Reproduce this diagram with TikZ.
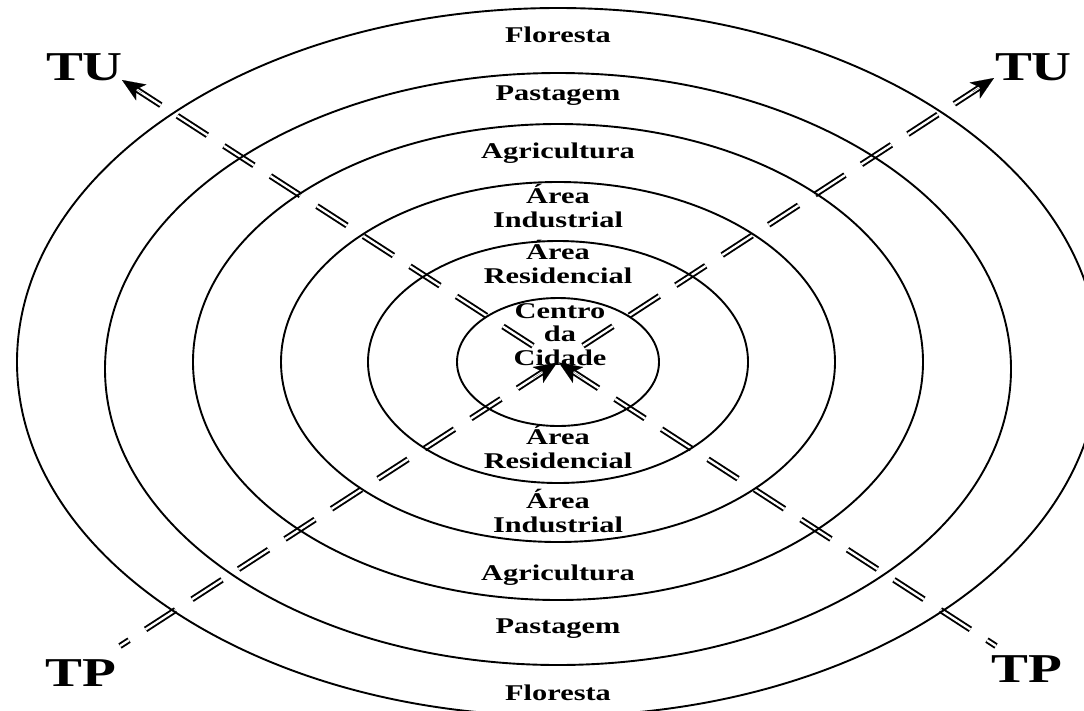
\documentclass[tikz,border=0pt]{standalone}
\usepackage{fontspec}
\setmainfont{Liberation Serif}
\usepackage{graphicx}
\usetikzlibrary{calc,arrows.meta}
\newcommand{\sx}[1]{\scalebox{1.35}[1]{#1}}
\newcommand{\labfont}{\fontsize{22.5}{23.5}\selectfont\bfseries}
\newcommand{\bigfont}{\fontsize{41}{45}\selectfont\bfseries}
\begin{document}
\begin{tikzpicture}[x=1pt,y=-1pt,
  ring/.style={draw=black, line width=1.9pt},
  road/.style={draw=black, line width=1.9pt, double=white, double distance=2.3pt, dash pattern=on 35.7pt off 19.7pt},
  lab/.style={font=\labfont, align=center, inner sep=0pt, anchor=base},
  biglab/.style={font=\bigfont, inner sep=0pt, anchor=base},
  head/.style={line width=0.1pt, -{Stealth[length=23pt,width=19pt,inset=6pt]}}
]
\clip (0,0) rectangle (1084,710);
\coordinate (C) at (558,362);
\coordinate (ULt) at (122,80);
\coordinate (URt) at (994,78);
\coordinate (BLe) at (120,646);
\coordinate (BRe) at (996,646);
% roads
\draw[road] ($(C)!29.8pt!(ULt)$) -- ($(C)!505pt!(ULt)$);
\draw[road] ($(C)!29.8pt!(URt)$) -- ($(C)!505pt!(URt)$);
\draw[road] ($(C)!12.6pt!(BLe)$) -- (BLe);
\draw[road] ($(C)!12.6pt!(BRe)$) -- (BRe);
% rings
\draw[ring] (C) ellipse [x radius=541pt, y radius=354pt];
\draw[ring] (558,369) ellipse [x radius=453pt, y radius=296pt];
\draw[ring] (C) ellipse [x radius=365pt, y radius=238pt];
\draw[ring] (C) ellipse [x radius=277pt, y radius=180pt];
\draw[ring] (C) ellipse [x radius=190pt, y radius=121pt];
\draw[ring] (C) ellipse [x radius=101pt, y radius=64pt];
% labels (base = baseline of last line)
\node[lab] (fl1) at (558,42) {\sx{Floresta}};
\node[lab] (pa1) at (558,100) {\sx{Pastagem}};
\node[lab] (ag1) at (558,158) {\sx{Agricultura}};
\node[lab] (in1) at (558,227) {\sx{Área}\\\sx{Industrial}};
\node[lab] (re1) at (558,283) {\sx{Área}\\\sx{Residencial}};
\node[lab] (ce) at (560,365) {\sx{Centro}\\\sx{da}\\\sx{Cidade}};
\node[lab] (re2) at (558,468) {\sx{Área}\\\sx{Residencial}};
\node[lab] (in2) at (558,532) {\sx{Área}\\\sx{Industrial}};
\node[lab] (ag2) at (558,580) {\sx{Agricultura}};
\node[lab] (pa2) at (558,633) {\sx{Pastagem}};
\node[lab] (fl2) at (558,700) {\sx{Floresta}};
\node[biglab] (tuL) at (84.5,80) {\sx{TU}};
\node[biglab] (tuR) at (1033.5,80) {\sx{TU}};
\node[biglab] (tpL) at (81,686) {\sx{TP}};
\node[biglab] (tpR) at (1026.5,682) {\sx{TP}};
% arrow heads
\draw[head] ($(C)!495pt!(ULt)$) -- (ULt);
\draw[head] ($(C)!495pt!(URt)$) -- (URt);
\draw[head] ($(C)!30pt!(BLe)$) -- ($(C)!1pt!(BLe)$);
\draw[head] ($(C)!30pt!(BRe)$) -- ($(C)!1pt!(BRe)$);
\end{tikzpicture}
\end{document}
